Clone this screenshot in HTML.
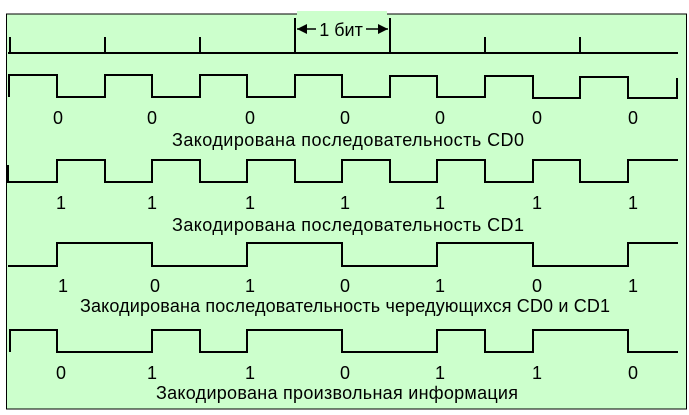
<!DOCTYPE html>
<html><head><meta charset="utf-8"><style>
html,body{margin:0;padding:0;background:#fff;}
svg{display:block}
text{font-family:"Liberation Sans",Arial,sans-serif;font-size:18px;fill:#000;text-anchor:middle}
</style></head><body>
<svg width="689" height="415" viewBox="0 0 689 415" xmlns="http://www.w3.org/2000/svg">
<rect x="6.5" y="14" width="680" height="395" fill="#ccffcc" stroke="#000" stroke-width="1"/>
<rect x="297" y="11" width="90" height="4" fill="#ccffcc"/>
<g stroke="#000" stroke-width="2" fill="none">
<path d="M8 53H678"/>
<path d="M10 37V53M105 37V53M200 37V53M485 37V53M580 37V53M295 18V53M390 18V53"/>
<path d="M9 97V75H57V97H105V75H152V97H200V75H247V97H295V75H342V97H390V76H437V97H485V76H533V98H580V77H628V98H677V78"/>
<path d="M8 165V182H57V160H105V182H152V160H200V182H247V160H295V182H342V160H390V182H437V160H485V182H533V160H580V182H628V160H678"/>
<path d="M8 266H57V243H152V266H247V243H342V266H437V243H533V266H628V243H678"/>
<path d="M10 352V330H57V352H152V330H200V352H247V330H342V352H437V330H485V352H533V330H628V352H678"/>
<path d="M297 29H316M366 29H388" stroke-width="1.5"/>
</g>
<polygon points="297,29 307,24 307,34" fill="#000"/>
<polygon points="388,29 378,24 378,34" fill="#000"/>
<text x="341" y="36">1 бит</text>
<g>
<text x="58" y="124">0</text><text x="152" y="124">0</text><text x="250" y="124">0</text><text x="345" y="124">0</text><text x="440" y="124">0</text><text x="537" y="124">0</text><text x="633" y="124">0</text>
<text x="348" y="146" textLength="352">Закодирована последовательность CD0</text>
<text x="61" y="209">1</text><text x="152" y="209">1</text><text x="250" y="209">1</text><text x="345" y="209">1</text><text x="440" y="209">1</text><text x="537" y="209">1</text><text x="633" y="209">1</text>
<text x="348" y="231" textLength="352">Закодирована последовательность CD1</text>
<text x="63" y="292">1</text><text x="155" y="292">0</text><text x="250" y="292">1</text><text x="345" y="292">0</text><text x="440" y="292">1</text><text x="537" y="292">0</text><text x="633" y="292">1</text>
<text x="345" y="312" textLength="530">Закодирована последовательность чередующихся CD0 и CD1</text>
<text x="61" y="379">0</text><text x="152" y="379">1</text><text x="250" y="379">1</text><text x="345" y="379">0</text><text x="440" y="379">1</text><text x="537" y="379">1</text><text x="633" y="379">0</text>
<text x="337" y="399" textLength="362">Закодирована произвольная информация</text>
</g>
</svg>
</body></html>
